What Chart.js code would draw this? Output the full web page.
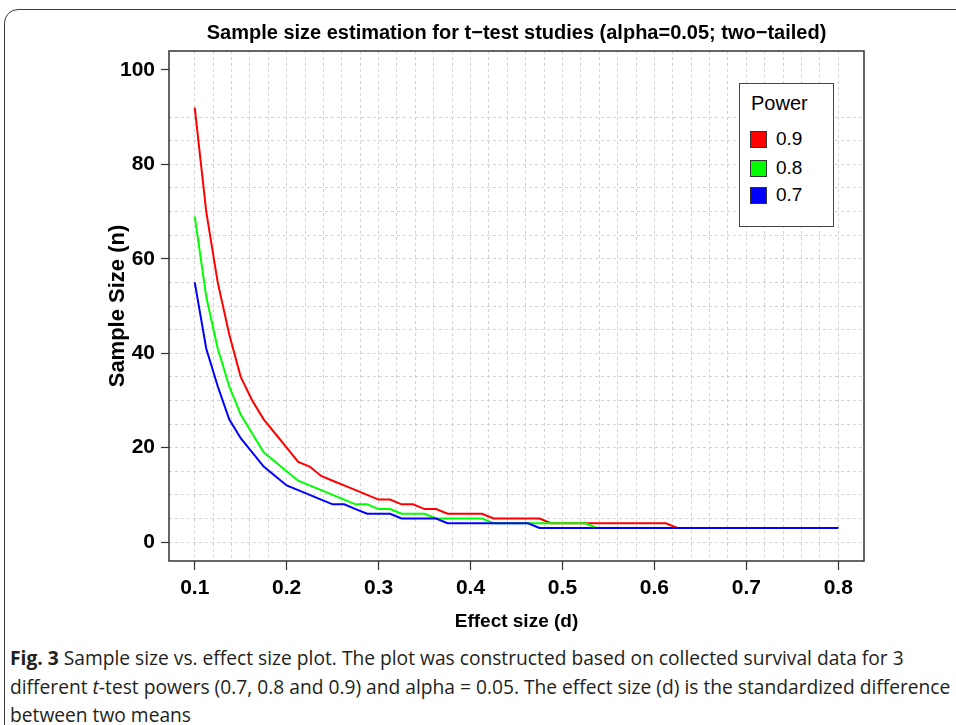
<!DOCTYPE html>
<html>
<head>
<meta charset="utf-8">
<script src="https://cdn.jsdelivr.net/npm/chart.js@4.4.1/dist/chart.umd.min.js"></script>
<style>
  html, body { margin: 0; padding: 0; background: #fff; width: 956px; height: 725px; overflow: hidden; }
  #frame { position: absolute; left: 4px; top: 9px; width: 1000px; height: 800px; box-sizing: border-box;
           border: 1.5px solid #3a3a3a; border-top-left-radius: 14px; }
  #sizeChart { position: absolute; left: 0; top: 0; }
  #legend { position: absolute; left: 739px; top: 83px; width: 95px; height: 144px; box-sizing: border-box;
            border: 1px solid #444; background: #fff; color: #000;
            font-family: 'Liberation Sans', Arial, sans-serif; font-size: 19px; }
  #legend .ttl { position: absolute; left: 11px; top: 8px; line-height: 22px; font-size: 20px; }
  #legend .sw { position: absolute; left: 10px; width: 17px; height: 17px; box-sizing: border-box; border: 1px solid #333; }
  #legend .lb { position: absolute; left: 36px; line-height: 22px; }
  #caption { position: absolute; left: 10px; top: 644px; font-family: 'Open Sans', sans-serif; font-size: 20px;
             line-height: 28.5px; color: #231f20; white-space: nowrap; transform-origin: 0 0; }
</style>
</head>
<body>
<div id="frame"></div>
<canvas id="sizeChart" width="956" height="636"></canvas>
<div id="legend"></div>
<div id="caption"><span id="cap1"><b>Fig. 3</b> Sample size vs. effect size plot. The plot was constructed based on collected survival data for 3</span><br><span id="cap2">different <i>t</i>-test powers (0.7, 0.8 and 0.9) and alpha = 0.05. The effect size (d) is the standardized difference</span><br><span>between two means</span></div>
<script>
// effect size (d) at which the sample size was computed
var effectSize = [0.1, 0.1125, 0.125, 0.1375, 0.15, 0.1625, 0.175, 0.1875, 0.2, 0.2125,
  0.225, 0.2375, 0.25, 0.2625, 0.275, 0.2875, 0.3, 0.3125, 0.325, 0.3375,
  0.35, 0.3625, 0.375, 0.3875, 0.4, 0.4125, 0.425, 0.4375, 0.45, 0.4625,
  0.475, 0.4875, 0.5, 0.5125, 0.525, 0.5375, 0.55, 0.5625, 0.575, 0.5875,
  0.6, 0.6125, 0.625, 0.6375, 0.65, 0.6625, 0.675, 0.6875, 0.7, 0.7125,
  0.725, 0.7375, 0.75, 0.7625, 0.775, 0.7875, 0.8];

// sample size n for each power
var power09 = [92, 70, 55, 44, 35, 30, 26, 23, 20, 17, 16, 14, 13, 12, 11, 10, 9, 9, 8, 8,
  7, 7, 6, 6, 6, 6, 5, 5, 5, 5, 5, 4, 4, 4, 4, 4, 4, 4, 4, 4,
  4, 4, 3, 3, 3, 3, 3, 3, 3, 3, 3, 3, 3, 3, 3, 3, 3];
var power08 = [69, 52, 41, 33, 27, 23, 19, 17, 15, 13, 12, 11, 10, 9, 8, 8, 7, 7, 6, 6,
  6, 5, 5, 5, 5, 5, 4, 4, 4, 4, 4, 4, 4, 4, 4, 3, 3, 3, 3, 3,
  3, 3, 3, 3, 3, 3, 3, 3, 3, 3, 3, 3, 3, 3, 3, 3, 3];
var power07 = [55, 41, 33, 26, 22, 19, 16, 14, 12, 11, 10, 9, 8, 8, 7, 6, 6, 6, 5, 5,
  5, 5, 4, 4, 4, 4, 4, 4, 4, 4, 3, 3, 3, 3, 3, 3, 3, 3, 3, 3,
  3, 3, 3, 3, 3, 3, 3, 3, 3, 3, 3, 3, 3, 3, 3, 3, 3];

var powerLabels = ['0.9', '0.8', '0.7'];
var lineColors = ['#ff0000', '#00ff00', '#0000ff'];

var xTickValues = [0.1, 0.2, 0.3, 0.4, 0.5, 0.6, 0.7, 0.8];
var yTickValues = [0, 20, 40, 60, 80, 100];

// dotted grid like R grid(): every 0.02 on x, every 5 on y (up to 90)
var xGrid = [];
for (var i = 0; i <= 35; i++) xGrid.push(Math.round((0.1 + i * 0.02) * 100) / 100);
var yGrid = [];
for (var j = 0; j <= 90; j += 5) yGrid.push(j);
var yAll = yGrid.concat(yTickValues.filter(function (v) { return yGrid.indexOf(v) < 0; }));

function isMajorX(v) {
  return xTickValues.some(function (t) { return Math.abs(t - v) < 1e-9; });
}

var sans = "'Liberation Sans', Arial, sans-serif";
var gridColor = '#d3d3d3';
var axisColor = '#333';

//vẽ khung quanh vùng biểu đồ
var plotBox = {
  id: 'plotBox',
  afterDraw: function (chart) {
    var a = chart.chartArea, ctx = chart.ctx;
    ctx.save();
    ctx.strokeStyle = axisColor;
    ctx.lineWidth = 1.5;
    ctx.strokeRect(a.left, a.top, a.right - a.left, a.bottom - a.top);
    ctx.restore();
  }
};

function series(values) {
  return effectSize.map(function (x, k) { return {x: x, y: values[k]}; });
}

var allSeries = [power09, power08, power07];
var datasets = allSeries.map(function (vals, k) {
  return {
    label: powerLabels[k],
    data: series(vals),
    borderColor: lineColors[k],
    borderWidth: 2,
    pointRadius: 0,
    fill: false,
    tension: 0,
    order: 3 - k
  };
});

var ctx = document.getElementById('sizeChart').getContext('2d');
var sizeChart = new Chart(ctx, {
  type: 'line',
  data: { datasets: datasets },
  plugins: [plotBox],
  options: {
    responsive: false,
    animation: false,
    devicePixelRatio: 1,
    layout: { padding: { left: 105, right: 92, top: 0, bottom: 0 } },
    plugins: {
      legend: { display: false },
      tooltip: { enabled: false },
      title: {
        display: true,
        fullSize: false,
        text: 'Sample size estimation for t\u2212test studies (alpha=0.05; two\u2212tailed)',
        color: '#000',
        font: { family: sans, size: 20, weight: 'bold', lineHeight: 1.2 },
        padding: { top: 21, bottom: 6 }
      }
    },
    scales: {
      x: {
        type: 'linear',
        min: 0.072,
        max: 0.828,
        z: 1,
        afterBuildTicks: function (axis) { axis.ticks = xGrid.map(function (v) { return {value: v}; }); },
        afterFit: function (axis) { axis.height = 75; },
        grid: {
          color: gridColor,
          lineWidth: 1,
          tickLength: 9,
          tickWidth: 1.2,
          tickColor: function (c) { return isMajorX(c.tick.value) ? axisColor : 'rgba(0,0,0,0)'; }
        },
        border: { display: false, dash: [3, 3] },
        ticks: {
          autoSkip: false,
          maxRotation: 0,
          minRotation: 0,
          padding: 6,
          color: '#000',
          font: { family: sans, size: 21, weight: 'bold' },
          callback: function (v) { return isMajorX(v) ? v.toFixed(1) : ''; }
        },
        title: {
          display: true,
          text: 'Effect size (d)',
          color: '#000',
          font: { family: sans, size: 19, weight: 'bold', lineHeight: 1.2 },
          padding: { top: 0, bottom: 3 }
        }
      },
      y: {
        type: 'linear',
        min: -4,
        max: 104,
        z: 1,
        afterBuildTicks: function (axis) { axis.ticks = yAll.map(function (v) { return {value: v}; }); },
        afterFit: function (axis) { axis.width = 64; },
        grid: {
          color: function (c) { return c.tick.value > 90 ? 'rgba(0,0,0,0)' : gridColor; },
          lineWidth: 1,
          tickLength: 8,
          tickWidth: 1.2,
          tickColor: function (c) { return yTickValues.indexOf(c.tick.value) >= 0 ? axisColor : 'rgba(0,0,0,0)'; }
        },
        border: { display: false, dash: [3, 3] },
        ticks: {
          autoSkip: false,
          padding: 6,
          color: '#000',
          font: { family: sans, size: 21, weight: 'bold' },
          callback: function (v) { return yTickValues.indexOf(v) >= 0 ? String(v) : ''; }
        },
        title: {
          display: true,
          text: 'Sample Size (n)',
          color: '#000',
          font: { family: sans, size: 22, weight: 'bold', lineHeight: 1.2 },
          padding: { top: 0, bottom: 0 }
        }
      }
    }
  }
});

// chú thích (legend) dạng HTML bên trong vùng biểu đồ
var legend = document.getElementById('legend');
var html = '<div class="ttl">Power</div>';
var rowTops = [55, 84, 111];
for (var r = 0; r < powerLabels.length; r++) {
  html += '<div class="sw" style="top:' + (rowTops[r] - 8.5) + 'px;background:' + lineColors[r] + '"></div>';
  html += '<div class="lb" style="top:' + (rowTops[r] - 11) + 'px">' + powerLabels[r] + '</div>';
}
legend.innerHTML = html;

// caption font is condensed in the figure: squeeze to about the same line lengths
var w1 = document.getElementById('cap1').getBoundingClientRect().width;
var w2 = document.getElementById('cap2').getBoundingClientRect().width;
document.getElementById('caption').style.transform = 'scaleX(' + ((905 + 929) / (w1 + w2)) + ')';
</script>
</body>
</html>
